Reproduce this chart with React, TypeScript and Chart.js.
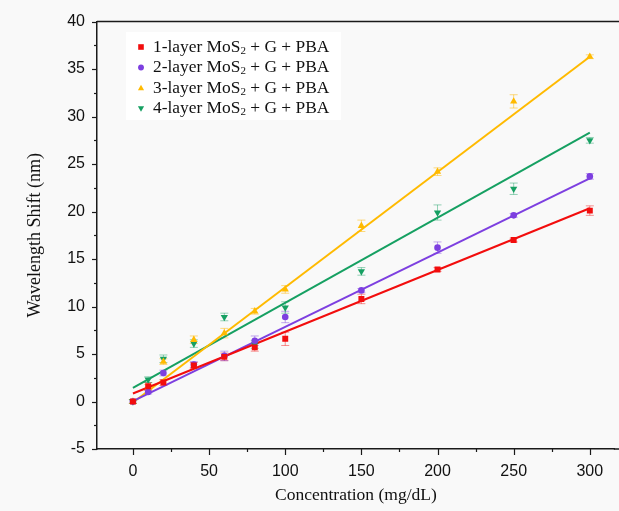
import React, { useEffect, useRef } from 'react';
import { Chart, registerables } from 'chart.js';

Chart.register(...registerables);

// ---- data ----
const concentrations = [0, 10, 20, 40, 60, 80, 100, 150, 200, 250, 300];

const layer1 = [0, 1.6, 2.0, 3.8, 4.7, 5.7, 6.6, 10.8, 13.9, 17.0, 20.1];
const layer2 = [0, 1.0, 3.0, 3.9, 4.8, 6.4, 8.9, 11.7, 16.2, 19.6, 23.7];
const layer3 = [0, 1.5, 4.2, 6.5, 7.2, 9.5, 11.8, 18.5, 24.2, 31.6, 36.3];
const layer4 = [0, 2.3, 4.5, 6.1, 8.9, 6.0, 9.9, 13.7, 19.9, 22.4, 27.5];

const layer1Err = [0.2, 0.4, 0.3, 0.3, 0.4, 0.4, 0.7, 0.5, 0.2, 0.2, 0.5];
const layer2Err = [0.2, 0.2, 0.3, 0.3, 0.5, 0.5, 0.6, 0.2, 0.6, 0.2, 0.3];
const layer3Err = [0.2, 0.3, 0.3, 0.4, 0.5, 0.3, 0.4, 0.6, 0.4, 0.7, 0.2];
const layer4Err = [0.2, 0.3, 0.4, 0.4, 0.4, 0.4, 0.6, 0.4, 0.8, 0.6, 0.3];

const fitX = [0, 300];
const layer1Fit = [0.84, 20.35];
const layer2Fit = [0.03, 23.5];
const layer3Fit = [-0.1, 36.3];
const layer4Fit = [1.43, 28.3];

const seriesNames = ['1-layer', '2-layer', '3-layer', '4-layer'];
const xTickValues = [0, 25, 50, 75, 100, 125, 150, 175, 200, 225, 250, 275, 300];
const yTickValues = [-5, -2.5, 0, 2.5, 5, 7.5, 10, 12.5, 15, 17.5, 20, 22.5, 25, 27.5, 30, 32.5, 35, 37.5, 40];

const colors = ['#f20d0d', '#7d3fe0', '#ffba00', '#16a062'];
const errColors = ['rgba(242,13,13,0.45)', 'rgba(125,63,224,0.45)', 'rgba(255,186,0,0.5)', 'rgba(22,160,98,0.45)'];
const pointStyles = ['rect', 'circle', 'triangle', 'triangle'];
const pointRotations = [0, 0, 0, 180];
const pointRadii = [4.2, 3.3, 4.2, 4.2];

const values = [layer1, layer2, layer3, layer4];
const errors = [layer1Err, layer2Err, layer3Err, layer4Err];
const fits = [layer1Fit, layer2Fit, layer3Fit, layer4Fit];

const AXIS_COLOR = '#1a1a1a';

function drawMarker(ctx: CanvasRenderingContext2D, i: number, x: number, y: number, s: number) {
  ctx.save();
  ctx.fillStyle = colors[i];
  ctx.beginPath();
  if (i === 0) {
    ctx.rect(x - s, y - s, 2 * s, 2 * s);
  } else if (i === 1) {
    ctx.arc(x, y, s * 1.05, 0, Math.PI * 2);
  } else if (i === 2) {
    ctx.moveTo(x, y - s * 1.2);
    ctx.lineTo(x + s * 1.1, y + s * 0.8);
    ctx.lineTo(x - s * 1.1, y + s * 0.8);
    ctx.closePath();
  } else {
    ctx.moveTo(x, y + s * 1.2);
    ctx.lineTo(x + s * 1.1, y - s * 0.8);
    ctx.lineTo(x - s * 1.1, y - s * 0.8);
    ctx.closePath();
  }
  ctx.fill();
  ctx.restore();
}

const decorPlugin = {
  id: 'decor',
  beforeDraw(chart: any) {
    const ctx = chart.ctx as CanvasRenderingContext2D;
    ctx.save();
    ctx.fillStyle = '#f9f9f9';
    ctx.fillRect(0, 0, chart.width, chart.height);
    ctx.fillStyle = '#ffffff';
    ctx.fillRect(126, 32, 215, 88);
    ctx.restore();
  },
  beforeDatasetsDraw(chart: any) {
    const ctx = chart.ctx as CanvasRenderingContext2D;
    const xs = chart.scales.x;
    const ys = chart.scales.y;
    ctx.save();
    ctx.lineWidth = 1;
    for (let i = 0; i < values.length; i++) {
      ctx.strokeStyle = errColors[i];
      for (let j = 0; j < concentrations.length; j++) {
        const px = xs.getPixelForValue(concentrations[j]);
        const top = ys.getPixelForValue(values[i][j] + errors[i][j]);
        const bot = ys.getPixelForValue(values[i][j] - errors[i][j]);
        ctx.beginPath();
        ctx.moveTo(px, top);
        ctx.lineTo(px, bot);
        ctx.moveTo(px - 4, top);
        ctx.lineTo(px + 4, top);
        ctx.moveTo(px - 4, bot);
        ctx.lineTo(px + 4, bot);
        ctx.stroke();
      }
    }
    ctx.restore();
  },
  afterDraw(chart: any) {
    const ctx = chart.ctx as CanvasRenderingContext2D;
    const xs = chart.scales.x;
    const ys = chart.scales.y;
    const area = chart.chartArea;
    ctx.save();
    ctx.strokeStyle = AXIS_COLOR;
    ctx.lineWidth = 1.5;
    // top frame line and bottom axis continuation to the picture edge
    ctx.beginPath();
    ctx.moveTo(area.left, area.top);
    ctx.lineTo(chart.width, area.top);
    ctx.moveTo(area.right - 1, area.bottom);
    ctx.lineTo(chart.width, area.bottom);
    ctx.stroke();
    ctx.lineWidth = 1.2;
    // x ticks (outward)
    for (const v of xTickValues) {
      const px = Math.round(xs.getPixelForValue(v)) + 0.5;
      const len = v % 50 === 0 ? 6 : 3;
      ctx.beginPath();
      ctx.moveTo(px, area.bottom);
      ctx.lineTo(px, area.bottom + len);
      ctx.stroke();
    }
    // y ticks (outward)
    for (const v of yTickValues) {
      const py = Math.round(ys.getPixelForValue(v)) + 0.5;
      const len = v % 5 === 0 ? 5 : 3;
      ctx.beginPath();
      ctx.moveTo(area.left - len, py);
      ctx.lineTo(area.left, py);
      ctx.stroke();
    }
    // legend
    const lx = 141;
    const tx = 153;
    const rowY = [47, 67.5, 88, 108.5];
    for (let i = 0; i < seriesNames.length; i++) {
      const y = rowY[i];
      drawMarker(ctx, i, lx, y, 2.8);
      ctx.fillStyle = '#111';
      ctx.textBaseline = 'middle';
      ctx.font = '17.4px "Liberation Serif", "Times New Roman", serif';
      const a = seriesNames[i] + ' MoS';
      ctx.fillText(a, tx, y);
      let x = tx + ctx.measureText(a).width;
      ctx.font = '11px "Liberation Serif", "Times New Roman", serif';
      ctx.fillText('2', x, y + 4);
      x += ctx.measureText('2').width;
      ctx.font = '17.4px "Liberation Serif", "Times New Roman", serif';
      ctx.fillText(' + G + PBA', x, y);
    }
    ctx.restore();
  },
};

export default function App() {
  const canvasRef = useRef<HTMLCanvasElement | null>(null);

  useEffect(() => {
    if (!canvasRef.current) return;
    const scatterSets = values.map((vals, i) => ({
      type: 'scatter' as const,
      label: seriesNames[i] + ' MoS2 + G + PBA',
      data: concentrations.map((c, j) => ({ x: c, y: vals[j] })),
      backgroundColor: colors[i],
      borderColor: colors[i],
      borderWidth: 0,
      pointStyle: pointStyles[i] as any,
      rotation: pointRotations[i],
      pointRadius: pointRadii[i],
      order: i,
    }));
    const fitSets = fits.map((f, i) => ({
      type: 'line' as const,
      label: seriesNames[i] + ' fit',
      data: fitX.map((x, j) => ({ x, y: f[j] })),
      borderColor: colors[i],
      borderWidth: 2,
      pointRadius: 0,
      fill: false,
      order: 10 + i,
    }));

    const chart = new Chart(canvasRef.current, {
      type: 'scatter',
      data: { datasets: [...scatterSets, ...fitSets] as any },
      options: {
        animation: false,
        responsive: false,
        maintainAspectRatio: false,
        layout: { padding: { left: 0, right: 0, top: 20, bottom: 0 } },
        plugins: { legend: { display: false }, tooltip: { enabled: false } },
        scales: {
          x: {
            type: 'linear',
            min: -23.6,
            max: 316.4,
            afterBuildTicks: (scale: any) => {
              scale.ticks = xTickValues.map((v) => ({ value: v }));
            },
            afterFit: (scale: any) => {
              scale.height = 62;
            },
            ticks: {
              autoSkip: false,
              maxRotation: 0,
              padding: 13,
              color: '#111',
              font: { family: '"Liberation Sans", Arial, sans-serif', size: 16 },
              callback: (v: any) => (Number(v) % 50 === 0 ? String(v) : ''),
            },
            grid: { display: true, drawOnChartArea: false, drawTicks: false },
            border: { display: true, color: AXIS_COLOR, width: 1.5 },
            title: {
              display: true,
              text: 'Concentration (mg/dL)',
              color: '#111',
              font: { family: '"Liberation Serif", "Times New Roman", serif', size: 17.5 },
              padding: { top: 0, bottom: 5 },
            },
          },
          y: {
            type: 'linear',
            min: -5,
            max: 40,
            afterBuildTicks: (scale: any) => {
              scale.ticks = yTickValues.map((v) => ({ value: v }));
            },
            afterFit: (scale: any) => {
              scale.width = 97;
            },
            ticks: {
              autoSkip: false,
              padding: 12,
              color: '#111',
              font: { family: '"Liberation Sans", Arial, sans-serif', size: 16 },
              callback: (v: any) => (Number(v) % 5 === 0 ? String(v) : ''),
            },
            grid: { display: true, drawOnChartArea: false, drawTicks: false },
            border: { display: true, color: AXIS_COLOR, width: 1.5 },
            title: {
              display: true,
              text: 'Wavelength Shift (nm)',
              color: '#111',
              font: { family: '"Liberation Serif", "Times New Roman", serif', size: 18 },
              padding: { top: 24, bottom: 0 },
            },
          },
        },
      },
      plugins: [decorPlugin],
    });
    return () => chart.destroy();
  }, []);

  return (
    <div style={{ position: 'fixed', left: 0, top: 0, width: 619, height: 511, background: '#f9f9f9' }}>
      <canvas ref={canvasRef} width={619} height={511} style={{ display: 'block', width: 619, height: 511 }} />
    </div>
  );
}
